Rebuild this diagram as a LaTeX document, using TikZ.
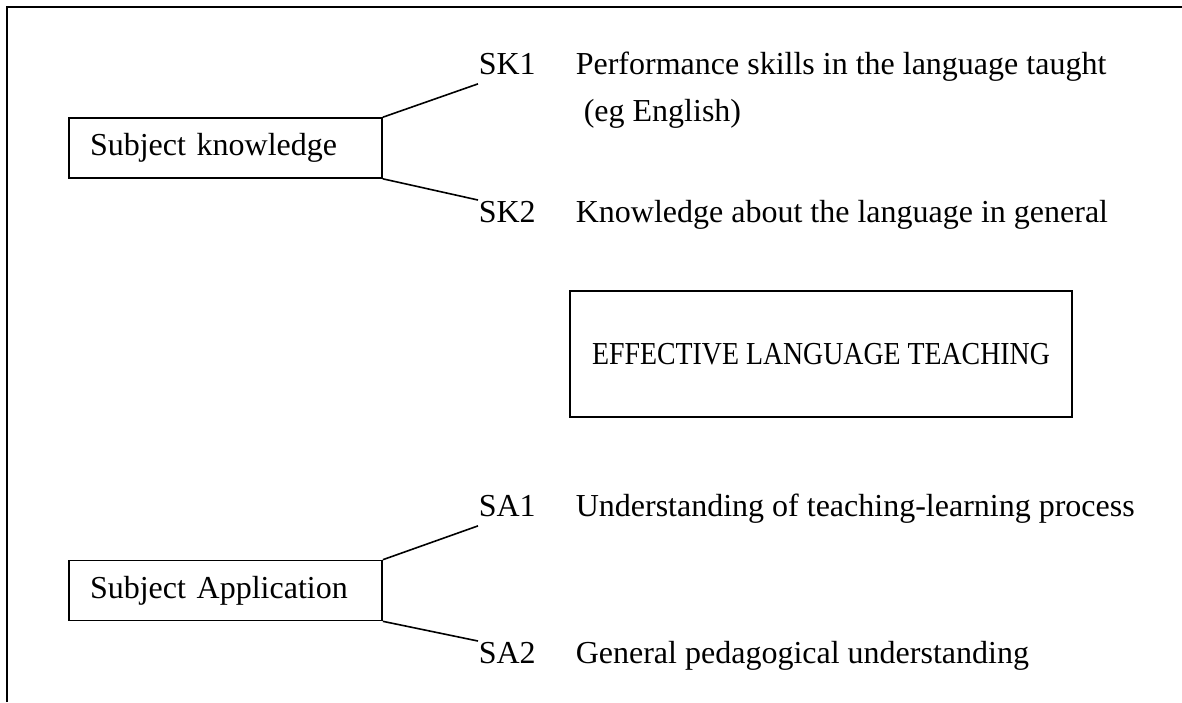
\documentclass[tikz,border=0pt]{standalone}
\usepackage{fontspec}
\setmainfont{Liberation Serif}
\newfontfamily\eltfont[FakeStretch=0.87]{Liberation Serif}
\usetikzlibrary{positioning}

\begin{document}
\begin{tikzpicture}[x=0.375pt,y=-0.375pt,font=\fontsize{12}{14}\selectfont,
	line width=0.6pt,
	area/.style={draw,minimum width=117.4pt,minimum height=22.5pt,inner xsep=7.9pt,text width=101.6pt,align=left},
	code/.style={inner sep=0pt,anchor=base west,text depth=3.4pt},
	desc/.style={inner sep=0pt,anchor=base west}]
				\useasboundingbox (0,0) rectangle (1182,702);
				\draw[line width=1pt] (7,702) |- (1182,7);

				\node[area](K) at (225.5,148){Subject knowledge};
				\node[area](A) at (225.5,590.5){Subject Application};

				\foreach \c/\y/\d in {SK1/74/Performance skills in the language taught,SK2/222/Knowledge about the language in general,SA1/516/Understanding of teaching-learning process,SA2/663/General pedagogical understanding}
				{
					\node[code](\c) at (478,\y){\c};
					\node[desc](D\c) at (575,\y){\d};
				}
				\node[desc](Deg) at (583,121){(eg English)};

				\node[draw,minimum width=188.25pt,minimum height=47.25pt,font=\eltfont\fontsize{12}{14}\selectfont](ELT) at (821,354){EFFECTIVE LANGUAGE TEACHING};

				\draw (K.north east) -- (SK1.south west);
				\draw (K.south east) -- (SK2.north west);
				\draw (A.north east) -- (SA1.south west);
				\draw (A.south east) -- (SA2.north west);
\end{tikzpicture}
\end{document}
